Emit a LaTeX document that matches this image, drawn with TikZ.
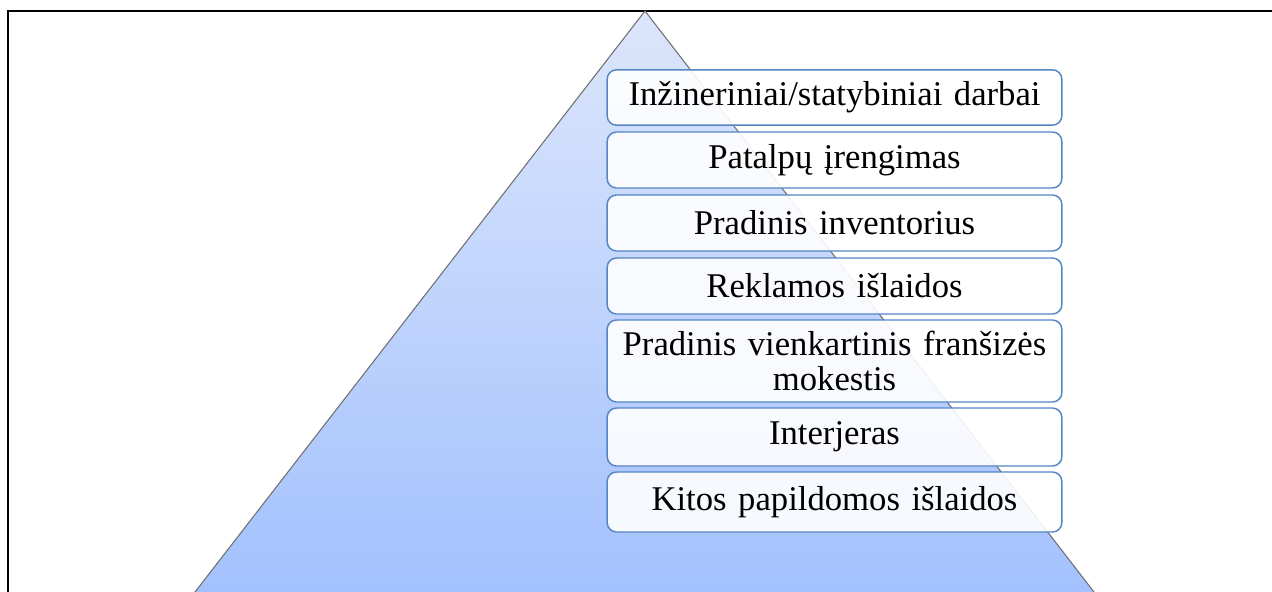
\documentclass[tikz,border=0pt]{standalone}
\usepackage{fontspec}
\setmainfont{Liberation Serif}
\definecolor{apexblue}{HTML}{DCE6FB}
\definecolor{baseblue}{HTML}{A3C1FE}
\definecolor{boxedge}{HTML}{5585C4}
\definecolor{rimgray}{HTML}{707070}
\tikzset{
  costbox/.style={draw=boxedge, line width=1.1pt, fill=white, fill opacity=0.9,
    text opacity=1, rounded corners=7pt, minimum width=341pt, text width=330pt,
    align=center, inner sep=0pt, font=\fontsize{26}{26}\selectfont},
  frameline/.style={line width=1.6pt, black}
}
\begin{document}
\begin{tikzpicture}[x=0.75pt, y=-0.75pt]
  \useasboundingbox (0,0) rectangle (1272,592);
  % outer frame (top and left sides)
  \coordinate (fl) at (8,592);
  \coordinate (fc) at (8,11);
  \coordinate (fr) at (1272,11);
  \draw[frameline] (fl) -- (fc) -- (fr);
  % pyramid
  \coordinate (apex) at (645,11);
  \coordinate (bl) at (195,592);
  \coordinate (br) at (1094,592);
  \shade[top color=apexblue, bottom color=baseblue] (apex) -- (br) -- (bl) -- cycle;
  \draw[rimgray, line width=0.8pt] (bl) -- (apex) -- (br);
  % cost items
  \node[costbox, minimum height=41.5pt] (b1) at (834.5,97.5) {Inžineriniai/statybiniai darbai};
  \node[costbox, minimum height=42pt] (b2) at (834.5,160) {Patalpų įrengimas};
  \node[costbox, minimum height=42pt] (b3) at (834.5,223) {Pradinis inventorius};
  \node[costbox, minimum height=42pt] (b4) at (834.5,286) {Reklamos išlaidos};
  \node[costbox, minimum height=61.5pt] (b5) at (834.5,361) {Pradinis vienkartinis franšizės\\mokestis};
  \node[costbox, minimum height=43.5pt] (b6) at (834.5,437) {Interjeras};
  \node[costbox, minimum height=45pt] (b7) at (834.5,502) {Kitos papildomos išlaidos};
\end{tikzpicture}
\end{document}
